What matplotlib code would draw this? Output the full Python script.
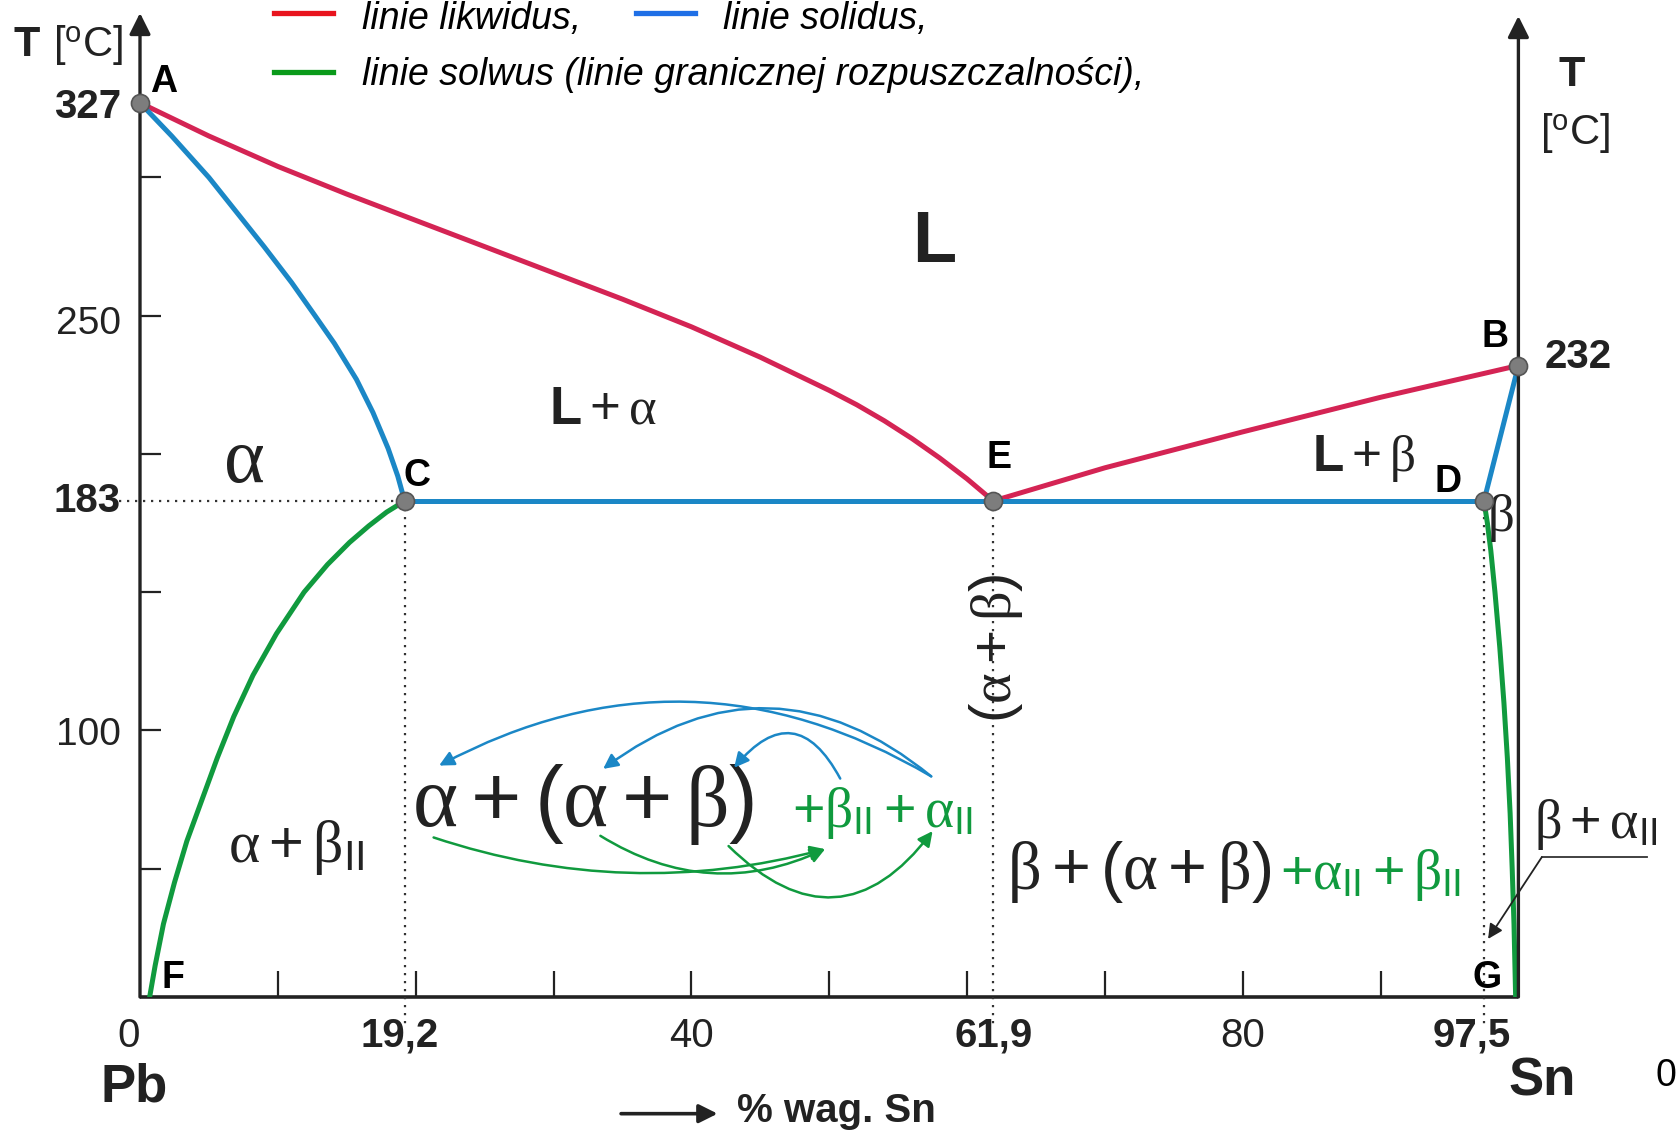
import matplotlib
matplotlib.use('Agg')
import matplotlib.pyplot as plt

plt.rcParams['font.family'] = ['Liberation Sans', 'DejaVu Sans']
plt.rcParams['mathtext.fontset'] = 'custom'
plt.rcParams['mathtext.rm'] = 'Liberation Sans'
plt.rcParams['mathtext.it'] = 'Liberation Serif'
plt.rcParams['mathtext.bf'] = 'Liberation Sans:bold'

# characteristic points (% wag. Sn, T [C])
pt_names = ['A', 'B', 'C', 'D', 'E']
pt_x = [0.0, 100.0, 19.2, 97.5, 61.9]
pt_t = [327, 232, 183, 183, 183]

# liquidus
liq_ae_x = [0, 5, 10, 15, 20, 25, 30, 35, 40, 45, 50, 52, 54, 56, 58, 60, 61.9]
liq_ae_t = [327, 315, 304, 294, 284.5, 275, 265.5, 256, 246, 235, 223, 217.8, 212, 205.6, 198.6, 191, 183]
liq_eb_x = [61.9, 70, 80, 90, 100]
liq_eb_t = [183, 195, 208, 220.5, 232]

# solidus
sol_ac_x = [0, 2.3, 5.0, 6.6, 9.0, 11.0, 12.7, 14.1, 15.7, 16.9, 18.0, 18.7, 19.2]
sol_ac_t = [327, 315, 300, 290, 275, 262, 250, 240, 227, 215, 202, 192, 183]
sol_cd_x = [19.2, 97.5]
sol_cd_t = [183, 183]
sol_db_x = [97.5, 100]
sol_db_t = [183, 232]

# solvus
solv_cf_x = [19.2, 17.9, 16.6, 15.2, 13.6, 11.9, 9.9, 8.2, 6.8, 5.6, 4.5, 3.4, 2.5, 1.7, 1.1, 0.7]
solv_cf_t = [183, 179, 174, 168, 160, 150, 135, 120, 105, 90, 75, 60, 45, 30, 15, 3.6]
solv_dg_x = [97.5, 97.75, 98.0, 98.3, 98.65, 98.95, 99.2, 99.4, 99.55, 99.68, 99.8]
solv_dg_t = [183, 175, 165, 150, 130, 110, 90, 70, 50, 30, 3.6]

xticks = [10, 20, 30, 40, 50, 60, 70, 80, 90]
yticks = [50, 100, 150, 200, 250, 300]
xlabels = ['0', '19,2', '40', '61,9', '80', '97,5']
xlabel_pos = [-0.8, 18.8, 40.0, 61.9, 80.0, 96.6]
xlabel_bold = [False, True, False, True, False, True]
ylabels = ['327', '250', '183', '100']
ylabel_pos = [325.5, 247, 183, 98.5]
ylabel_bold = [True, False, True, False]

RED = '#d42454'
BLUE = '#1b87c6'
GREEN = '#109a3e'
INK = '#222222'
YMIN, YMAX = 3.6, 360

fig = plt.figure(figsize=(16.79, 11.32), dpi=100)
ax = fig.add_axes([140 / 1679, 135 / 1132, 1378.4 / 1679, 985.4 / 1132])
ax.set_xlim(0, 100)
ax.set_ylim(YMIN, YMAX)
for s in ax.spines.values():
    s.set_visible(False)
ax.set_xticks(xticks)
ax.set_yticks(yticks)
ax.set_xticklabels([])
ax.set_yticklabels([])
ax.tick_params(axis='x', direction='in', length=19, width=1.6, color=INK)
ax.tick_params(axis='y', direction='in', length=15, width=1.6, color=INK)

# axes lines with arrows
ax.plot([0, 100], [YMIN, YMIN], color=INK, lw=2.6, clip_on=False, solid_capstyle='butt')
for xa, ytop in [(0, 359.5), (100, 358.4)]:
    ax.annotate('', xy=(xa, ytop), xytext=(xa, YMIN),
                arrowprops=dict(arrowstyle='-|>', color=INK, lw=2.4,
                                mutation_scale=32, shrinkA=0, shrinkB=0),
                annotation_clip=False)

# dotted guides
dot = dict(color='#333333', lw=1.6, linestyle=(0, (1, 2.6)), clip_on=False)
ax.plot([-1.55, 19.2], [183, 183], **dot)
ax.plot([19.2, 19.2], [183, -7.6], **dot)
ax.plot([61.9, 61.9], [183, -7.6], **dot)
ax.plot([97.5, 97.5], [183, -7.0], **dot)

# phase lines
lw = 3.6
ax.plot(liq_ae_x, liq_ae_t, color=RED, lw=lw, solid_capstyle='round', solid_joinstyle='round')
ax.plot(liq_eb_x, liq_eb_t, color=RED, lw=lw, solid_capstyle='round', solid_joinstyle='round')
ax.plot(sol_ac_x, sol_ac_t, color=BLUE, lw=lw, solid_capstyle='round', solid_joinstyle='round')
ax.plot(sol_cd_x, sol_cd_t, color=BLUE, lw=lw)
ax.plot(sol_db_x, sol_db_t, color=BLUE, lw=lw, clip_on=False)
ax.plot(solv_cf_x, solv_cf_t, color=GREEN, lw=lw, solid_joinstyle='round')
ax.plot(solv_dg_x, solv_dg_t, color=GREEN, lw=lw, solid_joinstyle='round')

ax.plot(pt_x, pt_t, 'o', ms=13, mfc='#7d7d7d', mec='#555555', mew=1.2, clip_on=False, zorder=5)

# point labels
lab = dict(fontsize=27, fontweight='bold', ha='center', va='center')
ax.text(1.7, 334.5, 'A', **lab)
ax.text(98.3, 242.3, 'B', **lab)
ax.text(20.1, 191.9, 'C', **lab)
ax.text(94.9, 190, 'D', **lab)
ax.text(62.3, 198.6, 'E', **lab)
ax.text(2.4, 10.6, 'F', **lab)
ax.text(97.7, 10.6, 'G', **lab)

# tick labels
for s, xp, b in zip(xlabels, xlabel_pos, xlabel_bold):
    ax.text(xp, -10.5, s, fontsize=29, ha='center', va='center',
            fontweight='bold' if b else 'normal', color=INK)
for s, yp, b in zip(ylabels, ylabel_pos, ylabel_bold):
    ax.text(-1.4, yp, s, fontsize=29 if b else 28, ha='right', va='center',
            fontweight='bold' if b else 'normal', color=INK)
ax.text(101.9, 235, '232', fontsize=29, fontweight='bold', ha='left', va='center', color=INK)

# axis titles
ax.text(-9.2, 348, 'T', fontsize=31, fontweight='bold', ha='left', va='center', color=INK)
ax.text(-6.3, 348, r'[$^{\mathrm{o}}$C]', fontsize=30, ha='left', va='center', color=INK)
ax.text(103.9, 337, 'T', fontsize=31, fontweight='bold', ha='center', va='center', color=INK)
ax.text(104.1, 316, r'[$^{\mathrm{o}}$C]', fontsize=30, ha='center', va='center', color=INK)
ax.text(-0.45, -29, 'Pb', fontsize=38, fontweight='bold', ha='center', va='center', color=INK)
ax.text(101.7, -27, 'Sn', fontsize=38, fontweight='bold', ha='center', va='center', color=INK)
ax.text(110.7, -25, '0', fontsize=27, ha='center', va='center')
ax.annotate('', xy=(41.9, -38.6), xytext=(34.9, -38.6),
            arrowprops=dict(arrowstyle='-|>', color=INK, lw=2.6, mutation_scale=28,
                            shrinkA=0, shrinkB=0), annotation_clip=False)
ax.text(43.3, -37.8, '% wag. Sn', fontsize=29, fontweight='bold', ha='left', va='center', color=INK)

# legend
ax.plot([9.7, 14.0], [359.6, 359.6], color='#e8141e', lw=3.8, clip_on=False)
ax.text(16.1, 357.3, 'linie likwidus,', fontsize=27, style='italic', ha='left', va='center')
ax.plot([36.0, 40.3], [359.6, 359.6], color='#1f6fe6', lw=3.8, clip_on=False)
ax.text(42.3, 357.3, 'linie solidus,', fontsize=27, style='italic', ha='left', va='center')
ax.plot([9.7, 14.0], [338, 338], color='#0a9a1a', lw=3.8, clip_on=False)
ax.text(16.1, 337, 'linie solwus (linie granicznej rozpuszczalności),', fontsize=27,
        style='italic', ha='left', va='center')

# region labels
ax.text(56.0, 269.4, 'L', fontsize=52, fontweight='bold', ha='left', va='baseline', color=INK)
ax.text(29.7, 211, r'$\mathbf{L}+\alpha$', fontsize=38, ha='left', va='baseline', color=INK)
ax.text(85.0, 193.8, r'$\mathbf{L}+\beta$', fontsize=37, ha='left', va='baseline', color=INK)
ax.text(6.0, 190, r'$\alpha$', fontsize=56, ha='left', va='baseline', color=INK)
ax.text(97.7, 177, r'$\beta$', fontsize=38, ha='left', va='center', color=INK)
ax.text(62.1, 129.8, r'$(\alpha+\beta)$', fontsize=42, rotation=90, ha='center', va='center',
        color=INK)
ax.text(6.4, 52.4, r'$\alpha+\beta_{\mathrm{II}}$', fontsize=43, ha='left', va='baseline', color=INK)
ax.text(19.7, 65.5, r'$\alpha + (\alpha + \beta)$', fontsize=62, ha='left', va='baseline', color=INK)
ax.text(47.3, 65, r'$+\beta_{\mathrm{II}}+\alpha_{\mathrm{II}}$', fontsize=40, ha='left',
        va='baseline', color=GREEN)
ax.text(62.9, 42.7, r'$\beta+(\alpha+\beta)$', fontsize=48, ha='left', va='baseline', color=INK)
ax.text(82.7, 42.7, r'$+\alpha_{\mathrm{II}}+\beta_{\mathrm{II}}$', fontsize=40, ha='left',
        va='baseline', color=GREEN)
ax.text(101.1, 61, r'$\beta+\alpha_{\mathrm{II}}$', fontsize=39, ha='left', va='baseline', color=INK)

# leader for beta + alpha_II
ax.plot([109.3, 101.7], [54.2, 54.2], color='#333333', lw=1.3, clip_on=False)
ax.annotate('', xy=(97.8, 24.6), xytext=(101.7, 54.2),
            arrowprops=dict(arrowstyle='-|>', color=INK, lw=1.3, mutation_scale=22,
                            shrinkA=0, shrinkB=0), annotation_clip=False)

# transformation arrows
arcs = [
    ((57.4, 83.4), (21.7, 87.3), 0.28, BLUE),
    ((57.4, 83.4), (33.6, 86.1), 0.39, BLUE),
    ((50.8, 82.6), (43.1, 86.5), 0.74, BLUE),
    ((21.3, 61.3), (49.7, 57.1), 0.15, GREEN),
    ((33.4, 61.9), (49.7, 57.1), 0.27, GREEN),
    ((42.7, 58.2), (57.5, 63.6), 0.57, GREEN),
]
for start, end, rad, c in arcs:
    ax.annotate('', xy=end, xytext=start,
                arrowprops=dict(arrowstyle='-|>', color=c, lw=1.8, mutation_scale=22,
                                connectionstyle='arc3,rad=%s' % rad, shrinkA=0, shrinkB=0))

fig.savefig('out.png', dpi=100)
